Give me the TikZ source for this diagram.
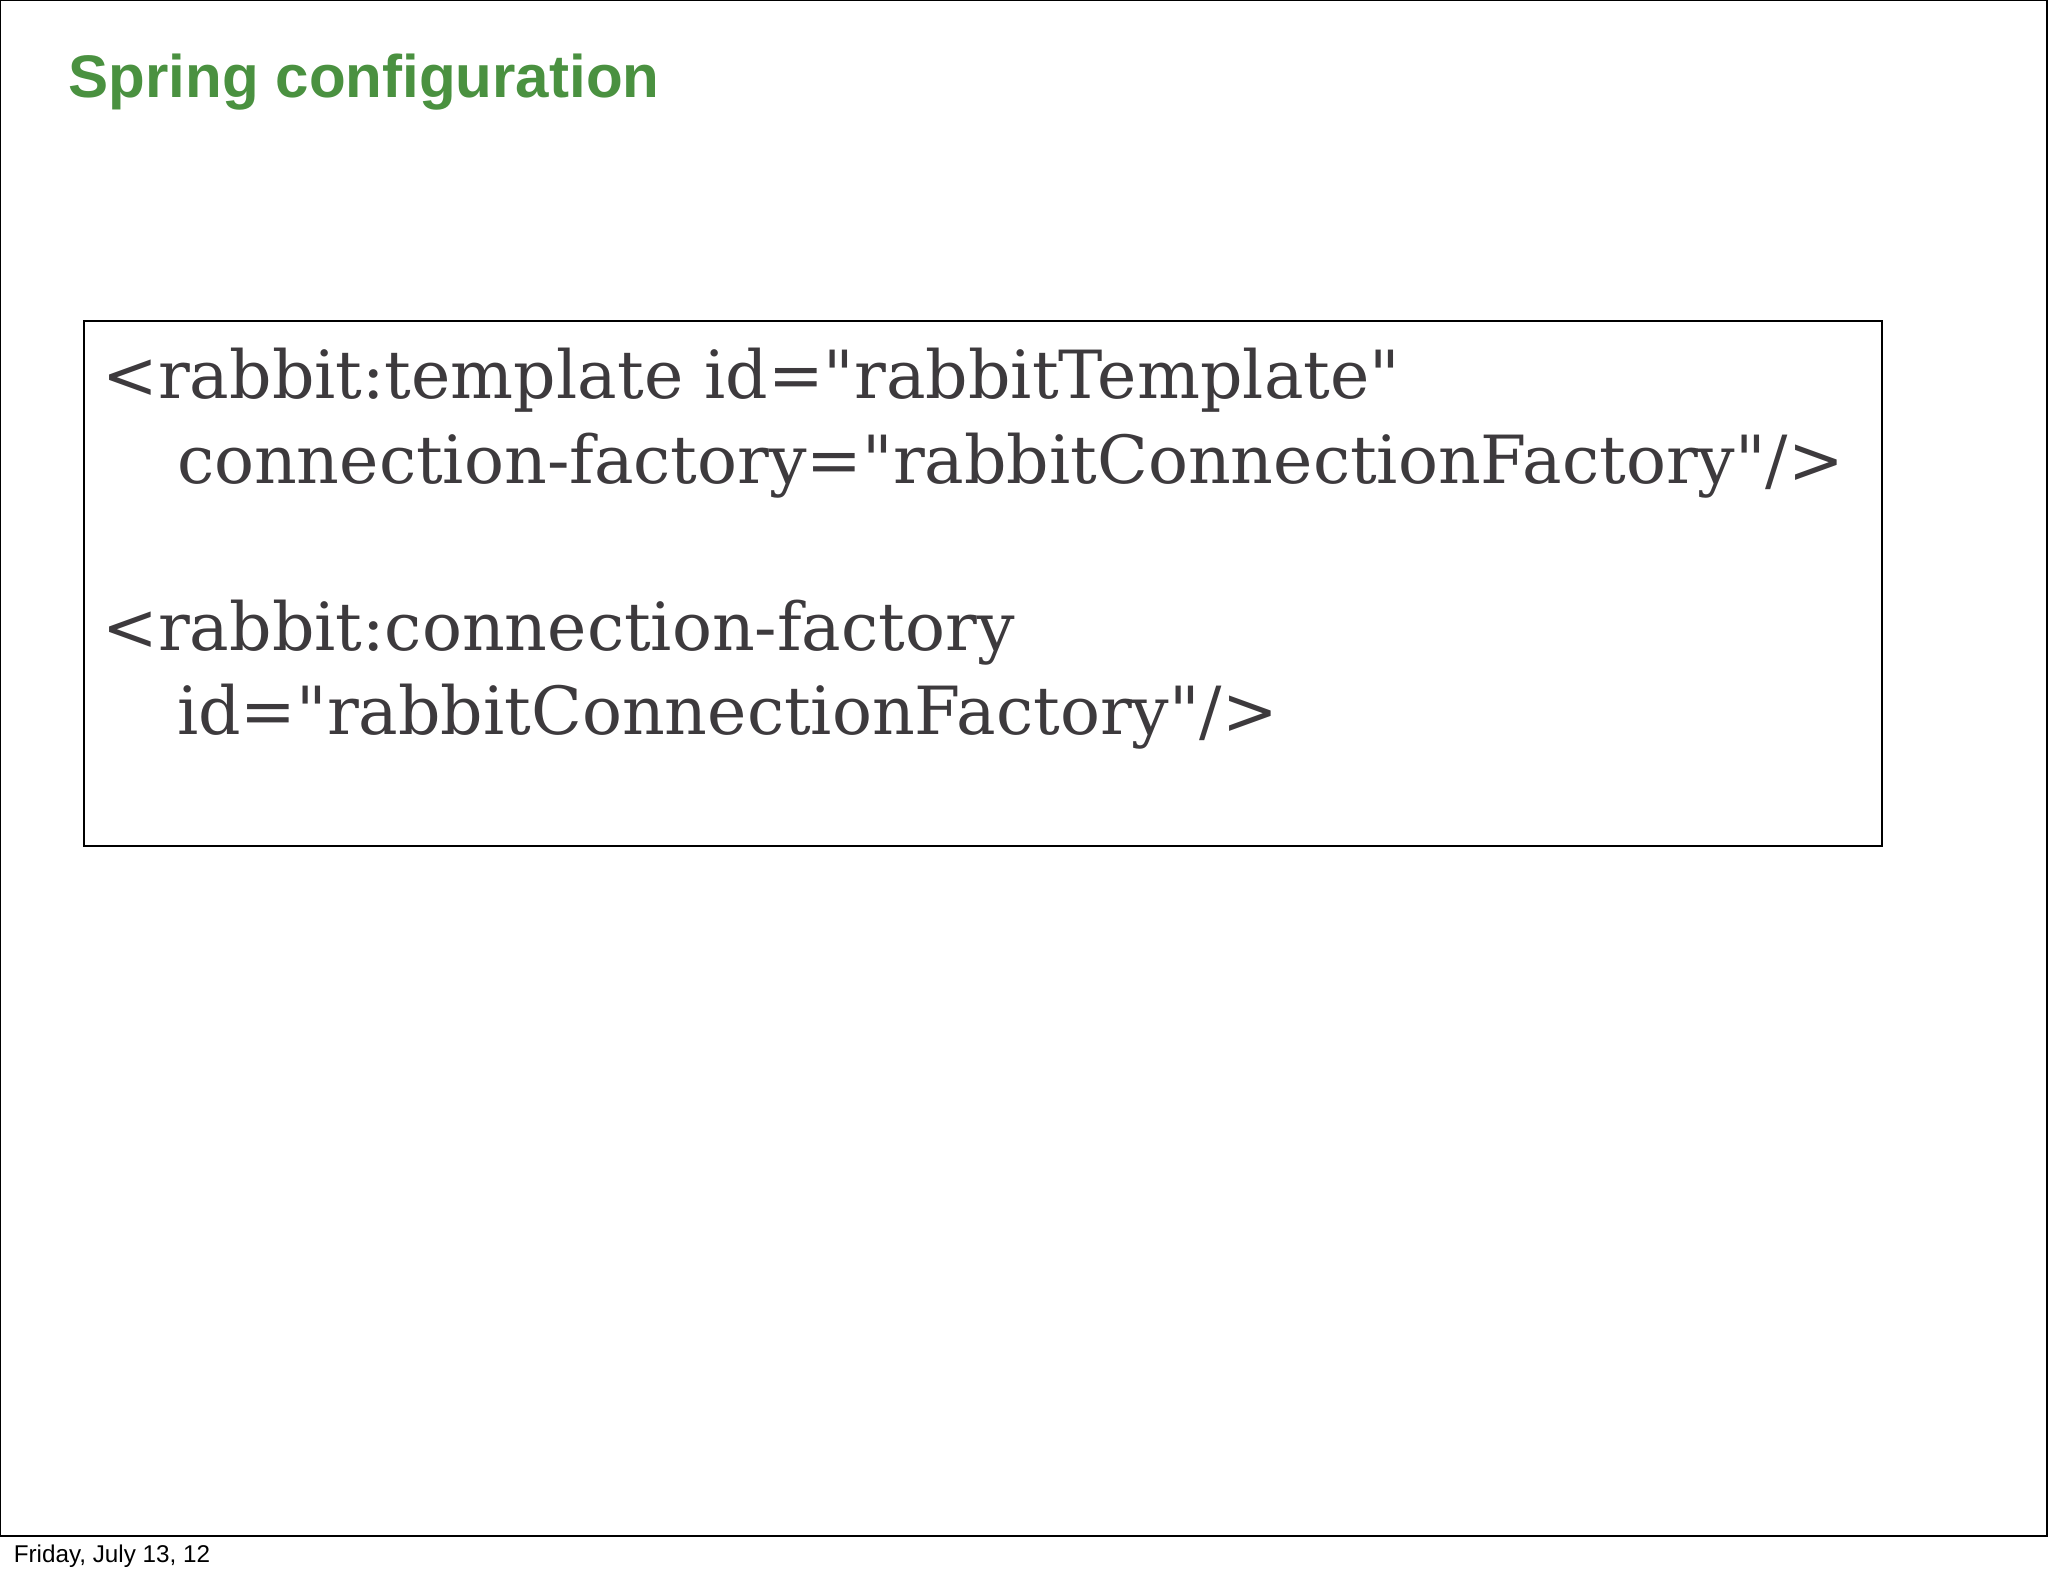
\documentclass[tikz,border=0pt]{standalone}
\usepackage{fontspec}
\setmainfont{Liberation Sans}
\newfontfamily\codefont{DejaVu Serif}
\definecolor{titlegreen}{HTML}{4A9140}
\definecolor{codegray}{HTML}{3D3A3D}
\begin{document}
\begin{tikzpicture}[x=0.0130612cm,y=-0.0130612cm,
  codeline/.style={anchor=base west,inner sep=0,font=\codefont\fontsize{18.9}{22}\selectfont,text=codegray}]
\useasboundingbox (0,0) rectangle (1568,1207);
\draw[line width=0.6pt] (0,0) -- (1567,0) -- (1567,1176) -- (0,1176) -- cycle;
\node[anchor=base west,inner sep=0,text=titlegreen,font=\bfseries\fontsize{17.1}{20}\selectfont] (title) at (52,75) {Spring configuration};
\draw[line width=0.6pt] (64,246) rectangle (1441,648);
\node[codeline] (l1) at (78,305) {<rabbit:template id="rabbitTemplate"};
\node[codeline] (l2) at (135,370) {connection-factory="rabbitConnectionFactory"/>};
\node[codeline] (l3) at (78,498) {<rabbit:connection-factory};
\node[codeline] (l4) at (135,562) {id="rabbitConnectionFactory"/>};
\node[anchor=base west,inner sep=0,font=\fontsize{6.9}{8}\selectfont] (foot) at (10,1196) {Friday, July 13, 12};
\end{tikzpicture}
\end{document}
